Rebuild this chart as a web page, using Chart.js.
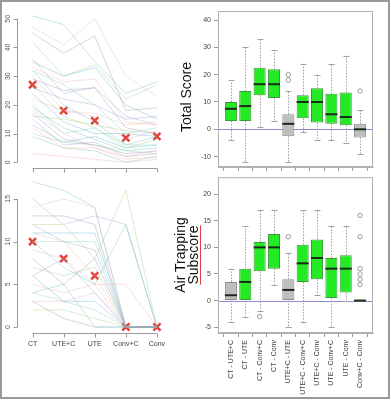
<!DOCTYPE html>
<html>
<head>
<meta charset="utf-8">
<script src="https://cdn.jsdelivr.net/npm/chart.js@4"></script>
<style>
  body { margin: 0; background: #fff; font-family: 'Liberation Sans', Arial, sans-serif; }
  #frame { position: absolute; left: 0; top: 0; width: 390px; height: 399px; box-sizing: border-box; border: 2px solid #9a9a9a; }
  canvas { position: absolute; }
  .ylab { position: absolute; font-size: 14px; color: #111; white-space: nowrap; transform: translate(-50%, -50%) rotate(-90deg); line-height: 13px; text-align: center; }
  .squig { text-decoration: underline; text-decoration-color: #e23b3b; text-underline-offset: 2px; }
</style>
</head>
<body>
<div id="frame"></div>
<canvas id="tl" style="left:0;top:0" width="180" height="180"></canvas>
<canvas id="bl" style="left:0;top:170px" width="180" height="225"></canvas>
<canvas id="tr" style="left:196px;top:0" width="192" height="178"></canvas>
<canvas id="br" style="left:196px;top:170px" width="192" height="228"></canvas>
<div class="ylab" style="left:186px;top:97px">Total Score</div>
<div class="ylab" style="left:187px;top:255px">Air Trapping<br><span class="squig">Subscore</span></div>

<script>
// timepoints for the spaghetti plots
const timepoints = ['CT', 'UTE+C', 'UTE', 'Conv+C', 'Conv'];

// Total score per patient (CT, UTE+C, UTE, Conv+C, Conv)
const totalPatients = [
    [51, 48, 35, 24, 28],
    [47, 41, 50, 30, 23],
    [45, 38, 44, 18, 19],
    [42, 30, 34, 22, 27],
    [36, 24, 26, 16, 13],
    [35, 30, 33, 20, 15],
    [33, 28, 29, 14, 13],
    [32, 27, 20, 10, 12],
    [32, 20, 14, 6, 9],
    [30, 18, 16, 8, 11],
    [29, 25, 26, 12, 10],
    [27, 16, 12, 5, 8],
    [26, 22, 20, 15, 16],
    [24, 14, 10, 10, 9],
    [22, 18, 17, 13, 14],
    [20, 10, 12, 6, 6],
    [19, 12, 8, 4, 5],
    [18, 10, 5, 2, 4],
    [17, 8, 6, 3, 4],
    [16, 15, 13, 11, 10],
    [15, 6, 7, 2, 3],
    [13, 7, 9, 5, 6],
    [12, 5, 5, 1, 2],
    [10, 7, 6, 4, 3],
    [9, 5, 4, 0, 2],
    [3, 2, 1, 0, 1]
];
const totalMarkers = [27, 18, 14.5, 8.5, 9];
const totalLeftTicks = [0, 10, 20, 30, 40, 50];

// Air trapping subscore per patient
const airPatients = [
    [17, 16, 14, 0, 0],
    [14, 15, 14, 0, 0],
    [13, 13, 12, 0, 0],
    [12, 12, 8, 16, 0],
    [12, 10, 9, 0, 0],
    [11, 11, 11, 0, 0],
    [11, 10, 6, 0, 0],
    [10, 10, 10, 0, 0],
    [10, 7, 5, 12, 0],
    [9, 8, 5, 0, 0],
    [8, 5, 8, 0, 0],
    [7, 6, 7, 0, 0],
    [6, 8, 4, 0, 0],
    [6, 3, 3, 0, 0],
    [5, 4, 5, 5, 0],
    [4, 3, 2, 0, 0],
    [4, 5, 0, 0, 0],
    [3, 3, 4, 0, 0],
    [3, 1, 0, 0, 0],
    [2, 2, 1, 0, 0],
    [15, 12, 13, 12, 0]
];
const airMarkers = [10, 8, 6, 0, 0];
const airLeftTicks = [0, 5, 10, 15];

// paired differences, box plots
const pairLabels = ['CT - UTE+C', 'CT - UTE', 'CT - Conv+C', 'CT - Conv', 'UTE+C - UTE',
    'UTE+C - Conv+C', 'UTE+C - Conv', 'UTE - Conv+C', 'UTE - Conv', 'Conv+C - Conv'];

const totalQ1  = [3, 3, 12.5, 11.5, -2.5, 4, 2.5, 2, 1.5, -3];
const totalQ3  = [10, 14, 22.5, 22, 5.5, 12.5, 15, 13, 13.5, 2];
const totalMed = [7.5, 8.5, 16.5, 16.5, 2, 10, 10, 5.5, 4.5, 0];
const totalLo  = [-4, -12, 1, 3, -12, -1, -4, -4, -5, -9];
const totalHi  = [18, 30, 33, 29, 14, 24, 20, 24, 27, 7];
const totalSig = [1, 1, 1, 1, 0, 1, 1, 1, 1, 0];
const totalOutX = [4, 4, 9];
const totalOutY = [18, 20, 14];
const totalRightTicks = [-10, 0, 10, 20, 30, 40];

const airQ1  = [0, 0, 5.5, 6, 0, 3.5, 4, 0.5, 1.5, 0];
const airQ3  = [3.5, 6, 11, 12.5, 4, 10.5, 11.5, 8, 8.5, 0];
const airMed = [1, 3.5, 10, 10, 2, 7, 8, 6, 6, 0];
const airLo  = [-4, -3, -2, 3, -5, -4, 1, -5, 0, 0];
const airHi  = [6, 14, 17, 17, 9, 17, 17, 14, 14, 0];
const airSig = [0, 1, 1, 1, 0, 1, 1, 1, 1, 0];
const airOutX = [2, 4, 9, 9, 9, 9, 9, 9];
const airOutY = [-3, 12, 3, 4, 5, 6, 12, 16];
const airRightTicks = [-5, 0, 5, 10, 15, 20];

const lineColors = [
    'rgba(102,194,180,0.38)', 'rgba(231,150,190,0.3)', 'rgba(150,150,160,0.38)',
    'rgba(150,200,110,0.34)', 'rgba(150,160,210,0.38)', 'rgba(90,180,200,0.38)',
    'rgba(240,160,140,0.3)', 'rgba(120,200,170,0.34)'
];

const tickFont = { family: "'Liberation Sans', Arial, sans-serif", size: 7 };

// R-style detached axes for the spaghetti panels
function rAxesPlugin(yTicks, showXLabels) {
    return {
        id: 'rAxes',
        afterDraw(chart) {
            const c = chart.ctx, x = chart.scales.x, y = chart.scales.y, a = chart.chartArea;
            c.save();
            c.strokeStyle = '#9a9a9a';
            c.lineWidth = 1;
            c.fillStyle = '#555';
            c.font = '7px ' + tickFont.family;
            // y axis
            const ax = a.left + 0.5;
            c.beginPath();
            c.moveTo(ax, y.getPixelForValue(yTicks[0]));
            c.lineTo(ax, y.getPixelForValue(yTicks[yTicks.length - 1]));
            yTicks.forEach(v => {
                const py = Math.round(y.getPixelForValue(v)) + 0.5;
                c.moveTo(ax, py);
                c.lineTo(ax - 4, py);
            });
            c.stroke();
            c.textAlign = 'center';
            c.textBaseline = 'middle';
            yTicks.forEach(v => {
                c.save();
                c.translate(ax - 9, y.getPixelForValue(v));
                c.rotate(-Math.PI / 2);
                c.fillText(String(v), 0, 0);
                c.restore();
            });
            // x axis
            const by = a.bottom + 0.5;
            c.beginPath();
            c.moveTo(x.getPixelForValue(0), by);
            c.lineTo(x.getPixelForValue(timepoints.length - 1), by);
            timepoints.forEach((t, i) => {
                const px = Math.round(x.getPixelForValue(i)) + 0.5;
                c.moveTo(px, by);
                c.lineTo(px, by + 4);
            });
            c.stroke();
            if (showXLabels) {
                c.fillStyle = '#444';
                timepoints.forEach((t, i) => c.fillText(t, x.getPixelForValue(i), by + 11));
            }
            c.restore();
        }
    };
}

function spaghetti(id, patients, markers, yMin, yMax, yTicks, padding, showXLabels) {
    const datasets = patients.map((p, k) => ({
        type: 'line',
        data: p.map((v, i) => ({ x: i, y: v })),
        borderColor: lineColors[k % lineColors.length],
        borderWidth: 1,
        pointRadius: 0,
        tension: 0
    }));
    datasets.push({
        type: 'scatter',
        data: markers.map((v, i) => ({ x: i, y: v })),
        pointStyle: 'crossRot',
        pointRadius: 5,
        borderWidth: 2.5,
        borderColor: '#e4403a',
        backgroundColor: '#e4403a'
    });
    new Chart(document.getElementById(id), {
        type: 'line',
        data: { datasets },
        options: {
            responsive: false,
            animation: false,
            layout: { padding },
            plugins: { legend: { display: false }, tooltip: { enabled: false } },
            scales: {
                x: { type: 'linear', min: -0.5, max: 4.5, display: false },
                y: { min: yMin, max: yMax, display: false }
            }
        },
        plugins: [rAxesPlugin(yTicks, showXLabels)]
    });
}

spaghetti('tl', totalPatients, totalMarkers, -2, 52, totalLeftTicks,
    { left: 17, top: 13, right: 6, bottom: 12 }, false);
spaghetti('bl', airPatients, airMarkers, -0.7, 17.5, airLeftTicks,
    { left: 17, top: 5, right: 6, bottom: 62 }, true);

// whiskers, medians, zero line and frame for the box plots
function boxExtras(q1, q3, med, lo, hi) {
    return {
        id: 'boxExtras',
        beforeDatasetsDraw(chart) {
            const c = chart.ctx, x = chart.scales.x, y = chart.scales.y, a = chart.chartArea;
            const meta = chart.getDatasetMeta(0);
            c.save();
            // zero line
            const zy = Math.round(y.getPixelForValue(0)) + 0.5;
            c.strokeStyle = '#8a8ad8';
            c.lineWidth = 1;
            c.beginPath();
            c.moveTo(a.left, zy);
            c.lineTo(a.right, zy);
            c.stroke();
            // whiskers
            c.strokeStyle = '#a0a0a0';
            med.forEach((m, i) => {
                const px = Math.round(x.getPixelForValue(i)) + 0.5;
                const half = meta.data[i].width / 4;
                c.setLineDash([1.5, 1.5]);
                c.beginPath();
                c.moveTo(px, y.getPixelForValue(q3[i]));
                c.lineTo(px, y.getPixelForValue(hi[i]));
                c.moveTo(px, y.getPixelForValue(q1[i]));
                c.lineTo(px, y.getPixelForValue(lo[i]));
                c.stroke();
                c.setLineDash([]);
                c.beginPath();
                const hy = Math.round(y.getPixelForValue(hi[i])) + 0.5;
                const ly = Math.round(y.getPixelForValue(lo[i])) + 0.5;
                c.moveTo(px - half, hy); c.lineTo(px + half, hy);
                c.moveTo(px - half, ly); c.lineTo(px + half, ly);
                c.stroke();
            });
            c.restore();
        },
        afterDatasetsDraw(chart) {
            const c = chart.ctx, x = chart.scales.x, y = chart.scales.y, a = chart.chartArea;
            const meta = chart.getDatasetMeta(0);
            c.save();
            c.strokeStyle = '#1c2a1c';
            c.lineWidth = 2;
            med.forEach((m, i) => {
                const px = x.getPixelForValue(i);
                const half = meta.data[i].width / 2;
                const my = y.getPixelForValue(m);
                c.beginPath();
                c.moveTo(px - half, my);
                c.lineTo(px + half, my);
                c.stroke();
            });
            c.strokeStyle = '#b0b0b0';
            c.lineWidth = 1;
            c.strokeRect(a.left + 0.5, a.top + 0.5, a.right - a.left - 1, a.bottom - a.top - 1);
            c.restore();
        }
    };
}

function boxChart(id, q1, q3, med, lo, hi, sig, outX, outY, yMin, yMax, yTicks, topPad, xHeight, showLabels) {
    new Chart(document.getElementById(id), {
        type: 'bar',
        data: {
            datasets: [{
                data: q1.map((v, i) => ({ x: i, y: [v, q3[i]] })),
                backgroundColor: sig.map(s => s ? '#24ea24' : '#bebebe'),
                borderColor: sig.map(s => s ? '#3a9a3a' : '#8c8c8c'),
                borderWidth: 1,
                borderSkipped: false,
                barPercentage: 0.84,
                categoryPercentage: 1
            }, {
                type: 'scatter',
                data: outX.map((v, i) => ({ x: v, y: outY[i] })),
                pointRadius: 2.2,
                pointStyle: 'circle',
                borderColor: '#9a9a9a',
                backgroundColor: 'rgba(0,0,0,0)',
                borderWidth: 1
            }]
        },
        options: {
            responsive: false,
            animation: false,
            layout: { padding: { left: 0, top: topPad, right: 15, bottom: 0 } },
            plugins: { legend: { display: false }, tooltip: { enabled: false } },
            scales: {
                x: {
                    type: 'linear', min: -0.9, max: 9.9, offset: false,
                    afterBuildTicks: s => { s.ticks = pairLabels.map((l, i) => ({ value: i })); },
                    afterFit: s => { s.height = xHeight; },
                    grid: { drawOnChartArea: false, tickLength: 4, color: '#9a9a9a' },
                    border: { color: '#b0b0b0' },
                    ticks: {
                        display: showLabels, minRotation: 90, maxRotation: 90, autoSkip: false,
                        font: tickFont, color: '#444', padding: 3,
                        callback: v => pairLabels[v]
                    }
                },
                y: {
                    min: yMin, max: yMax,
                    afterBuildTicks: s => { s.ticks = yTicks.map(v => ({ value: v })); },
                    afterFit: s => { s.width = 22; },
                    grid: { drawOnChartArea: false, tickLength: 4, color: '#9a9a9a' },
                    border: { color: '#b0b0b0' },
                    ticks: { font: tickFont, color: '#444', padding: 3 }
                }
            }
        },
        plugins: [boxExtras(q1, q3, med, lo, hi)]
    });
}

boxChart('tr', totalQ1, totalQ3, totalMed, totalLo, totalHi, totalSig, totalOutX, totalOutY,
    -13.8, 43.3, totalRightTicks, 11, 11, false);
boxChart('br', airQ1, airQ3, airMed, airLo, airHi, airSig, airOutX, airOutY,
    -6.1, 23.2, airRightTicks, 6, 65, true);
</script>
</body>
</html>
